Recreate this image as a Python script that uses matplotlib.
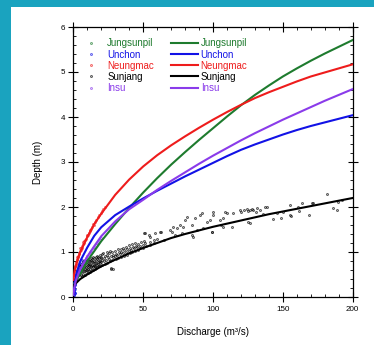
import matplotlib
matplotlib.use("Agg")
import matplotlib.pyplot as plt
from matplotlib.lines import Line2D
from matplotlib.patches import Rectangle
from matplotlib.ticker import MultipleLocator

plt.rcParams['font.family'] = ['Liberation Sans', 'DejaVu Sans']

# ---------------- data ----------------
names = ["Jungsunpil", "Unchon", "Neungmac", "Sunjang", "Insu"]
colors = ["#1E7B2E", "#1212E6", "#EE1C1C", "#000000", "#8A3BEA"]

q_line = [0, 1, 2, 5, 10, 15, 20, 30, 40, 50, 60, 70, 80, 90, 100,
          110, 120, 130, 140, 150, 160, 170, 180, 190, 200]
h_jungsunpil = [0.28, 0.32, 0.36, 0.52, 0.80, 1.02, 1.24, 1.62, 1.98, 2.32, 2.64, 2.94, 3.22, 3.49, 3.75,
                4.01, 4.26, 4.49, 4.70, 4.90, 5.08, 5.25, 5.41, 5.56, 5.71]
h_unchon = [0.05, 0.33, 0.50, 0.80, 1.10, 1.36, 1.55, 1.82, 2.01, 2.19, 2.36, 2.52, 2.68, 2.83, 2.98,
            3.13, 3.27, 3.39, 3.50, 3.61, 3.71, 3.80, 3.88, 3.96, 4.04]
h_neungmac = [0.38, 0.60, 0.72, 1.00, 1.33, 1.62, 1.85, 2.27, 2.61, 2.90, 3.15, 3.37, 3.57, 3.76, 3.94,
              4.11, 4.27, 4.42, 4.55, 4.67, 4.79, 4.90, 4.99, 5.08, 5.17]
h_sunjang = [0.25, 0.28, 0.31, 0.40, 0.50, 0.59, 0.68, 0.83, 0.97, 1.09, 1.20, 1.31, 1.40, 1.48, 1.56,
             1.63, 1.70, 1.77, 1.84, 1.90, 1.96, 2.02, 2.08, 2.14, 2.20]
h_insu = [0.05, 0.26, 0.38, 0.62, 0.90, 1.13, 1.35, 1.68, 1.95, 2.16, 2.38, 2.58, 2.77, 2.96, 3.14,
          3.31, 3.48, 3.64, 3.79, 3.94, 4.08, 4.22, 4.36, 4.49, 4.62]

# observed points
q_obs_jungsunpil = [3, 5, 7, 9]
h_obs_jungsunpil = [0.45, 0.55, 0.66, 0.76]

q_obs_unchon = [0.1, 0.2, 0.3, 0.4, 0.5, 0.6, 0.8, 1.0, 1.2, 1.4, 1.6, 1.8, 2.0, 0.3, 0.5, 0.2, 0.8, 1.0, 0.6,
                2.2, 2.5, 3.0, 3.5, 4.0, 5.0, 6.0, 0.1, 0.2, 0.4, 0.7, 0.9, 1.1]
h_obs_unchon = [0.02, 0.05, 0.08, 0.12, 0.15, 0.18, 0.22, 0.26, 0.30, 0.33, 0.36, 0.40, 0.43, 0.20, 0.25, 0.12,
                0.14, 0.18, 0.30, 0.47, 0.50, 0.55, 0.60, 0.66, 0.75, 0.82, 0.10, 0.30, 0.36, 0.05, 0.10, 0.08]

q_obs_neungmac = [0.3, 0.5, 0.7, 1.0, 1.2, 1.5, 1.8, 2.0, 2.3, 2.6, 3.0, 3.3, 3.6, 4.0, 4.4, 4.8, 5.2, 5.6, 6.0,
                  6.5, 7.0, 7.5, 8.0, 8.6, 9.2, 9.8, 10.5, 11.2, 12.0, 12.8, 13.6, 14.5, 15.5, 16.5, 17.5,
                  18.5, 19.5, 20.5, 21.5, 23.0, 2.8, 5.0, 7.2, 9.5, 11.8, 14.0]
h_obs_neungmac = [0.40, 0.48, 0.55, 0.60, 0.66, 0.68, 0.72, 0.78, 0.76, 0.82, 0.85, 0.88, 0.92, 0.95, 0.97,
                  1.02, 1.04, 1.08, 1.10, 1.14, 1.18, 1.20, 1.24, 1.27, 1.30, 1.35, 1.38, 1.43, 1.47, 1.52,
                  1.56, 1.60, 1.66, 1.72, 1.77, 1.82, 1.86, 1.92, 1.95, 2.01, 0.90, 1.08, 1.23, 1.37, 1.50,
                  1.62]

q_obs_insu = [1, 1.5, 2, 2.5, 3, 3.5, 4, 5, 6, 7, 8, 9, 10, 11, 12, 13, 14, 15, 16, 17, 18, 19, 20]
h_obs_insu = [0.30, 0.36, 0.42, 0.46, 0.50, 0.54, 0.58, 0.64, 0.70, 0.76, 0.81, 0.86, 0.91, 0.95, 0.99,
              1.03, 1.08, 1.12, 1.16, 1.19, 1.23, 1.27, 1.31]

q_obs_sunjang = [
    3.2, 2.8, 3.5, 4.1, 3.8, 4.4, 4.0, 5.3, 4.7, 5.1, 5.6, 6.2, 5.8, 6.4, 6.0, 6.7, 7.3, 6.9, 7.1, 7.6, 6.6,
    8.2, 7.8, 8.5, 8.1, 7.7, 8.4, 9.3, 8.8, 9.1, 9.6, 8.9, 10.4, 9.7, 10.2, 10.7, 9.9, 10.3, 11.2, 10.8, 11.5,
    11.1, 10.9, 12.3, 11.8, 12.6, 12.1, 11.7, 12.4, 13.2, 12.9, 13.5, 13.1, 12.8, 14.3, 13.8, 14.6, 14.1, 13.7,
    14.4, 15.2, 14.9, 15.6, 15.1, 14.8, 16.3, 15.8, 16.5, 16.1, 15.9, 17.2, 16.8, 17.4, 17.1, 16.7,
    18.3, 17.9, 18.6, 18.1, 17.8, 19.4, 18.8, 19.2, 19.7, 18.9, 20.3, 19.8, 20.6, 20.1, 20.8,
    22.4, 21.7, 22.1, 22.8, 21.5, 24.2, 23.6, 24.7, 23.9, 24.4, 26.3, 25.6, 26.8, 25.9, 26.5,
    27.2, 26.8, 28.4, 27.9, 28.2, 28.7, 27.6, 30.3, 29.6, 30.7, 29.9, 32.2, 31.6, 32.7, 31.9,
    34.1, 33.6, 34.5, 33.8, 36.3, 35.7, 36.6, 35.9, 38.2, 37.6, 38.5, 37.8, 40.3, 39.7, 40.6, 39.9,
    42.2, 41.6, 42.7, 41.8, 44.1, 43.7, 44.6, 43.9, 46.2, 45.7, 46.5, 48.1, 47.6, 48.4, 50.2, 49.7, 50.6,
    52.1, 51.6, 55.2, 54.7, 58.1, 57.6,
    50.4, 54, 58.5, 63, 60, 65, 51.3, 62, 70.4, 54.9,
    69.2, 71.6, 74, 76.4, 78.7, 72.8, 77.6, 80, 81.2, 84.8, 85.9, 84.8, 87.1, 88.3,
    90.7, 91.9, 93, 95.5, 97.9, 99, 99, 100.2, 100.2, 105, 106, 107.4, 107.4, 108.6,
    109.8, 113.4, 114.5, 119.3, 120, 122, 124, 125, 125, 126.5, 126.5, 128, 128.9, 131,
    131.3, 133.6, 136, 137, 138.4, 143, 145.6, 149, 150, 155, 155, 156, 161, 161.8,
    163.5, 169, 170.6, 171.8, 181.4, 186, 188.5, 189.7, 192]
h_obs_sunjang = [
    0.52, 0.58, 0.63, 0.48, 0.56, 0.66, 0.71, 0.50, 0.60, 0.68, 0.74, 0.47, 0.55, 0.62, 0.70, 0.77,
    0.52, 0.58, 0.65, 0.72, 0.80,
    0.50, 0.57, 0.63, 0.69, 0.75, 0.83, 0.55, 0.61, 0.67, 0.73, 0.79, 0.53, 0.60, 0.66, 0.71, 0.77, 0.84,
    0.57, 0.63, 0.69, 0.74, 0.80,
    0.56, 0.62, 0.68, 0.73, 0.79, 0.86, 0.60, 0.66, 0.71, 0.77, 0.83, 0.61, 0.67, 0.72, 0.78, 0.85, 0.90,
    0.63, 0.69, 0.75, 0.80, 0.87, 0.65, 0.70, 0.76, 0.82, 0.88, 0.66, 0.72, 0.78, 0.84, 0.92,
    0.68, 0.74, 0.80, 0.86, 0.90,
    0.70, 0.76, 0.81, 0.87, 0.94, 0.71, 0.77, 0.83, 0.89, 0.95, 0.74, 0.80, 0.86, 0.92, 0.97,
    0.76, 0.82, 0.88, 0.94, 1.00,
    0.79, 0.85, 0.91, 0.97, 1.02, 0.62, 0.65, 0.63, 0.82, 0.88, 0.94, 1.00, 0.85, 0.91, 0.96, 1.03,
    0.87, 0.93, 0.99, 1.06,
    0.89, 0.95, 1.01, 1.07, 0.92, 0.98, 1.04, 1.10, 0.94, 1.00, 1.06, 1.12, 0.97, 1.03, 1.09, 1.15,
    0.99, 1.05, 1.11, 1.17,
    1.02, 1.08, 1.14, 1.20, 1.05, 1.12, 1.18, 1.08, 1.14, 1.22, 1.10, 1.16, 1.25, 1.13, 1.20,
    1.15, 1.22, 1.19, 1.26,
    1.42, 1.38, 1.42, 1.44, 1.30, 1.27, 1.42, 1.45, 1.45, 1.34,
    1.49, 1.56, 1.53, 1.60, 1.56, 1.38, 1.42, 1.71, 1.78, 1.60, 1.34, 1.38, 1.75, 1.49,
    1.82, 1.86, 1.53, 1.67, 1.71, 1.45, 1.45, 1.90, 1.82, 1.71, 1.60, 1.75, 1.56, 1.90,
    1.86, 1.56, 1.86, 1.93, 1.90, 1.94, 1.96, 1.67, 1.92, 1.65, 1.93, 1.95, 1.93, 1.90,
    1.97, 1.93, 1.84, 2.01, 2.00, 1.73, 1.86, 1.75, 1.90, 2.04, 1.82, 1.81, 1.99, 1.91,
    2.08, 1.82, 2.10, 2.08, 2.29, 1.97, 1.93, 2.12, 2.16]

# ---------------- figure ----------------
W, H = 374, 345
fig = plt.figure(figsize=(W / 100, H / 100), dpi=100)
fig.patch.set_facecolor('#1AA3BF')
fig.add_artist(Rectangle((11 / W, 0), 1, (H - 7) / H, transform=fig.transFigure,
                         facecolor='white', edgecolor='none', zorder=-1))

ax = fig.add_axes([73.3 / W, 48 / H, 279.4 / W, 270 / H])
ax.set_xlim(0, 200)
ax.set_ylim(0, 6)

mk = dict(ls='none', marker='s', ms=1.1, mfc='none', mew=0.5)
ax.plot(q_obs_sunjang, h_obs_sunjang, mec=colors[3], **mk, zorder=2)
ax.plot(q_obs_jungsunpil, h_obs_jungsunpil, mec=colors[0], **mk, zorder=2)
ax.plot(q_obs_insu, h_obs_insu, mec=colors[4], **mk, zorder=2)
ax.plot(q_obs_neungmac, h_obs_neungmac, mec=colors[2], **mk, zorder=2)
ax.plot(q_obs_unchon, h_obs_unchon, mec=colors[1], **mk, zorder=2)

curves = [h_jungsunpil, h_unchon, h_neungmac, h_sunjang, h_insu]
for h, c in zip(curves, colors):
    ax.plot(q_line, h, color=c, lw=1.5, zorder=3)

ax.xaxis.set_major_locator(MultipleLocator(50))
ax.xaxis.set_minor_locator(MultipleLocator(10))
ax.yaxis.set_major_locator(MultipleLocator(1))
ax.yaxis.set_minor_locator(MultipleLocator(0.2))
ax.tick_params(which='major', direction='inout', length=6.5, width=0.8,
               top=True, right=True, labelsize=5.8, pad=3.5, colors='black')
ax.tick_params(which='minor', direction='in', length=2, width=0.6, top=True, right=True)
ax.tick_params(axis='y', which='major', pad=2.5)
for s in ax.spines.values():
    s.set_linewidth(0.9)

ax.set_xlabel('Discharge (m³/s)', fontsize=7)
ax.set_ylabel('Depth (m)', fontsize=7)
ax.xaxis.set_label_coords(0.5, -0.112)
ax.yaxis.set_label_coords(-0.11, 0.5)

mh = [Line2D([], [], mec=c, **mk) for c in colors]
lh = [Line2D([], [], color=c, lw=1.5) for c in colors]
ax.legend(handles=mh + lh, labels=names + names, ncol=2, loc='upper left',
          bbox_to_anchor=(0.016, 0.958), frameon=False, fontsize=7,
          handlelength=2.74, handletextpad=0.28, columnspacing=1.8,
          labelspacing=0.12, borderpad=0, borderaxespad=0,
          labelcolor=colors + colors)

fig.savefig('out.png', dpi=100, facecolor=fig.get_facecolor())
